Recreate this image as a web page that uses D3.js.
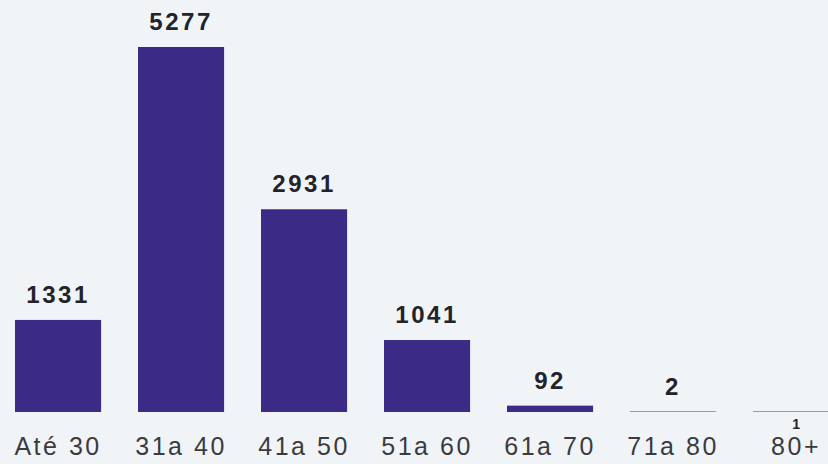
<!DOCTYPE html>
<html>
<head>
<meta charset="utf-8">
<script src="https://cdn.jsdelivr.net/npm/d3@7"></script>
<style>
  html, body { margin: 0; padding: 0; background: #f1f4f7; }
  svg { display: block; }
</style>
</head>
<body>
<script>
const categories = ["Até 30", "31a 40", "41a 50", "51a 60", "61a 70", "71a 80", "80+"];
const values = [1331, 5277, 2931, 1041, 92, 2, 1];
const valueLabels = ["1331", "5277", "2931", "1041", "92", "2", "1"];

const W = 828, H = 464;
const svg = d3.select("body").append("svg").attr("width", W).attr("height", H);
svg.append("rect").attr("width", W).attr("height", H).attr("fill", "#f1f4f7");

const x = d3.scaleBand().domain(categories).range([15, 15 + 123 * 6.7]).paddingInner(0.3).paddingOuter(0);
const y = d3.scaleLinear().domain([0, 5277]).range([412, 47]);

const data = categories.map((c, i) => ({ c, v: values[i], label: valueLabels[i], i }));
const last = categories.length - 1;

svg.append("g").selectAll("rect").data(data).join("rect")
  .attr("x", d => x(d.c))
  .attr("width", x.bandwidth())
  .attr("y", d => Math.min(y(d.v), y(0) - 1))
  .attr("height", d => Math.max(y(0) - y(d.v), 1))
  .attr("fill", d => (y(0) - y(d.v)) < 1 ? "#9a9aa6" : "#3c2b86");

// value labels
svg.append("g").selectAll("text").data(data).join("text")
  .attr("x", d => x(d.c) + x.bandwidth() / 2)
  .attr("y", d => d.i === last ? y(0) + 17 : y(d.v) - 17)
  .attr("text-anchor", "middle")
  .attr("font-family", "'Liberation Sans', Arial, sans-serif")
  .attr("font-weight", "bold")
  .attr("font-size", d => d.i === last ? 14 : 24)
  .attr("letter-spacing", d => d.i === last ? 0 : 2.5)
  .attr("fill", "#22232b")
  .text(d => d.label);

// category labels
const xAxis = svg.append("g").attr("transform", `translate(0,${y(0)})`)
  .call(d3.axisBottom(x).tickSize(0).tickPadding(0));
xAxis.select(".domain").remove();
xAxis.selectAll("text")
  .attr("y", 43)
  .attr("dy", null)
  .attr("font-family", "'Liberation Sans', Arial, sans-serif")
  .attr("font-size", 25)
  .attr("letter-spacing", 2.5)
  .attr("fill", "#3a3b40");
</script>
</body>
</html>
